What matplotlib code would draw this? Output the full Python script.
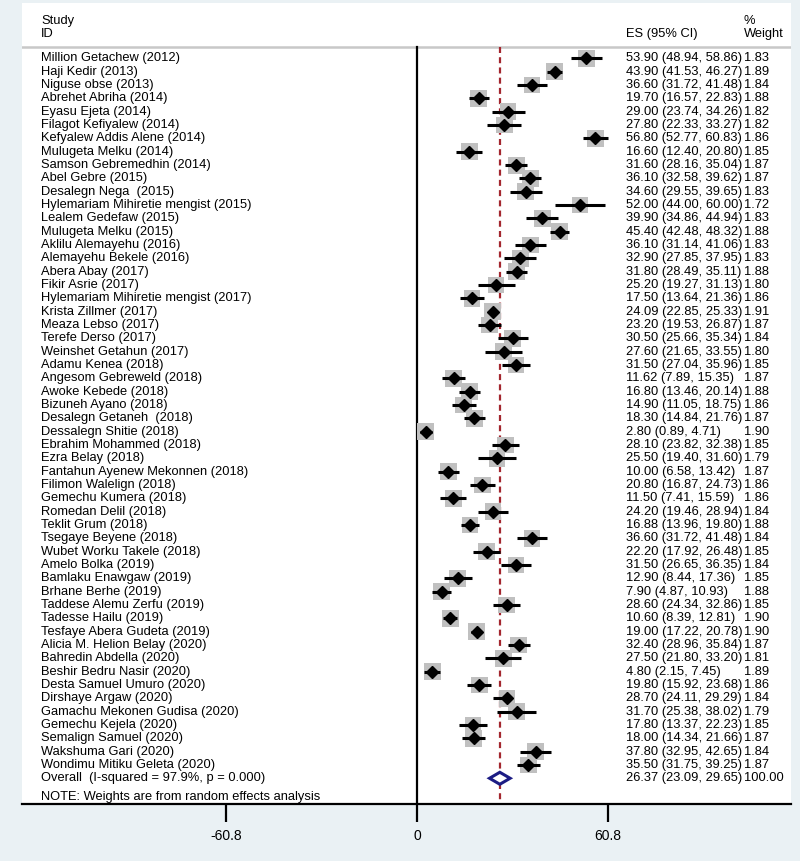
import matplotlib.pyplot as plt
from matplotlib.patches import Polygon

# study rows
studies = [
    "Million Getachew (2012)", "Haji Kedir (2013)", "Niguse obse (2013)",
    "Abrehet Abriha (2014)", "Eyasu Ejeta (2014)", "Filagot Kefiyalew (2014)",
    "Kefyalew Addis Alene (2014)", "Mulugeta Melku (2014)",
    "Samson Gebremedhin (2014)", "Abel Gebre (2015)", "Desalegn Nega  (2015)",
    "Hylemariam Mihiretie mengist (2015)", "Lealem Gedefaw (2015)",
    "Mulugeta Melku (2015)", "Aklilu Alemayehu (2016)", "Alemayehu Bekele (2016)",
    "Abera Abay (2017)", "Fikir Asrie (2017)",
    "Hylemariam Mihiretie mengist (2017)", "Krista Zillmer (2017)",
    "Meaza Lebso (2017)", "Terefe Derso (2017)", "Weinshet Getahun (2017)",
    "Adamu Kenea (2018)", "Angesom Gebreweld (2018)", "Awoke Kebede (2018)",
    "Bizuneh Ayano (2018)", "Desalegn Getaneh  (2018)", "Dessalegn Shitie (2018)",
    "Ebrahim Mohammed (2018)", "Ezra Belay (2018)",
    "Fantahun Ayenew Mekonnen (2018)", "Filimon Walelign (2018)",
    "Gemechu Kumera (2018)", "Romedan Delil (2018)", "Teklit Grum (2018)",
    "Tsegaye Beyene (2018)", "Wubet Worku Takele (2018)", "Amelo Bolka (2019)",
    "Bamlaku Enawgaw (2019)", "Brhane Berhe (2019)", "Taddese Alemu Zerfu (2019)",
    "Tadesse Hailu (2019)", "Tesfaye Abera Gudeta (2019)",
    "Alicia M. Helion Belay (2020)", "Bahredin Abdella (2020)",
    "Beshir Bedru Nasir (2020)", "Desta Samuel Umuro (2020)",
    "Dirshaye Argaw (2020)", "Gamachu Mekonen Gudisa (2020)",
    "Gemechu Kejela (2020)", "Semalign Samuel (2020)", "Wakshuma Gari (2020)",
    "Wondimu Mitiku Geleta (2020)",
]
es = [53.90, 43.90, 36.60, 19.70, 29.00, 27.80, 56.80, 16.60, 31.60, 36.10,
      34.60, 52.00, 39.90, 45.40, 36.10, 32.90, 31.80, 25.20, 17.50, 24.09,
      23.20, 30.50, 27.60, 31.50, 11.62, 16.80, 14.90, 18.30, 2.80, 28.10,
      25.50, 10.00, 20.80, 11.50, 24.20, 16.88, 36.60, 22.20, 31.50, 12.90,
      7.90, 28.60, 10.60, 19.00, 32.40, 27.50, 4.80, 19.80, 28.70, 31.70,
      17.80, 18.00, 37.80, 35.50]
lo = [48.94, 41.53, 31.72, 16.57, 23.74, 22.33, 52.77, 12.40, 28.16, 32.58,
      29.55, 44.00, 34.86, 42.48, 31.14, 27.85, 28.49, 19.27, 13.64, 22.85,
      19.53, 25.66, 21.65, 27.04, 7.89, 13.46, 11.05, 14.84, 0.89, 23.82,
      19.40, 6.58, 16.87, 7.41, 19.46, 13.96, 31.72, 17.92, 26.65, 8.44,
      4.87, 24.34, 8.39, 17.22, 28.96, 21.80, 2.15, 15.92, 24.11, 25.38,
      13.37, 14.34, 32.95, 31.75]
hi = [58.86, 46.27, 41.48, 22.83, 34.26, 33.27, 60.83, 20.80, 35.04, 39.62,
      39.65, 60.00, 44.94, 48.32, 41.06, 37.95, 35.11, 31.13, 21.36, 25.33,
      26.87, 35.34, 33.55, 35.96, 15.35, 20.14, 18.75, 21.76, 4.71, 32.38,
      31.60, 13.42, 24.73, 15.59, 28.94, 19.80, 41.48, 26.48, 36.35, 17.36,
      10.93, 32.86, 12.81, 20.78, 35.84, 33.20, 7.45, 23.68, 29.29, 38.02,
      22.23, 21.66, 42.65, 39.25]
weights = [1.83, 1.89, 1.84, 1.88, 1.82, 1.82, 1.86, 1.85, 1.87, 1.87, 1.83,
           1.72, 1.83, 1.88, 1.83, 1.83, 1.88, 1.80, 1.86, 1.91, 1.87, 1.84,
           1.80, 1.85, 1.87, 1.88, 1.86, 1.87, 1.90, 1.85, 1.79, 1.87, 1.86,
           1.86, 1.84, 1.88, 1.84, 1.85, 1.84, 1.85, 1.88, 1.85, 1.90, 1.90,
           1.87, 1.81, 1.89, 1.86, 1.84, 1.79, 1.85, 1.87, 1.84, 1.87]
overall_es, overall_lo, overall_hi = 26.37, 23.09, 29.65
overall_label = "Overall  (I-squared = 97.9%, p = 0.000)"
note = "NOTE: Weights are from random effects analysis"
tick_vals = [-60.8, 0, 60.8]
tick_labels = ["-60.8", "0", "60.8"]

plt.rcParams['font.family'] = ['Liberation Sans', 'DejaVu Sans']
FS = 9.3
bg = '#eaf1f4'

fig = plt.figure(figsize=(8, 8.61), dpi=100, facecolor=bg)
ax = fig.add_axes([22 / 800, 57 / 861, 769 / 800, 801 / 861])
ax.set_facecolor('white')
ax.set_xlim(-125.8, 119.1)
n = len(studies)
ax.set_ylim(55.93, -4.16)

x_lab, x_es, x_wt = -119.7, 66.6, 104.1
top = -0.86

# header
ax.text(x_lab, -2.8, "Study", fontsize=FS, va='center')
ax.text(x_lab, -1.85, "ID", fontsize=FS, va='center')
ax.text(x_es, -1.85, "ES (95% CI)", fontsize=FS, va='center')
ax.text(x_wt, -2.8, "%", fontsize=FS, va='center')
ax.text(x_wt, -1.85, "Weight", fontsize=FS, va='center')
ax.axhline(top, color='#c8c8c8', lw=1.8, zorder=1)

# reference lines
ax.plot([0, 0], [top, 55.93], color='black', lw=1.6, zorder=1)
ax.plot([overall_es, overall_es], [top, 55.93], color='#a3262e', lw=1.6,
        dashes=(2.7, 1.9), zorder=1)

rows = list(range(n))
ax.scatter(es, rows, marker='s', s=[145 * w / 1.85 for w in weights],
           color='#c0c0c0', zorder=2, linewidths=0)
ax.hlines(rows, lo, hi, color='black', lw=2.2, zorder=3)
ax.plot(es, rows, 'D', color='black', ms=6.6, zorder=4)

for i in rows:
    ax.text(x_lab, i, studies[i], fontsize=FS, va='center')
    ax.text(x_es, i, "%.2f (%.2f, %.2f)" % (es[i], lo[i], hi[i]),
            fontsize=FS, va='center')
    ax.text(x_wt, i, "%.2f" % weights[i], fontsize=FS, va='center')

# overall diamond
yo = n
d = Polygon([(overall_lo, yo), (overall_es, yo - 0.45),
             (overall_hi, yo), (overall_es, yo + 0.45)],
            closed=True, facecolor='white', edgecolor='#1c1c84', lw=2.2,
            zorder=5)
ax.add_patch(d)
ax.text(x_lab, yo, overall_label, fontsize=FS, va='center')
ax.text(x_es, yo, "%.2f (%.2f, %.2f)" % (overall_es, overall_lo, overall_hi),
        fontsize=FS, va='center')
ax.text(x_wt, yo, "100.00", fontsize=FS, va='center')
ax.text(x_lab, 55.4, note, fontsize=FS, va='center')

# axes styling
for s in ['left', 'right', 'top']:
    ax.spines[s].set_visible(False)
ax.spines['bottom'].set_linewidth(1.6)
ax.set_yticks([])
ax.set_xticks(tick_vals)
ax.set_xticklabels(tick_labels)
ax.tick_params(axis='x', direction='out', length=13, width=1.6,
               labelsize=10, pad=5)

fig.savefig('out.png', dpi=100, facecolor=bg)
